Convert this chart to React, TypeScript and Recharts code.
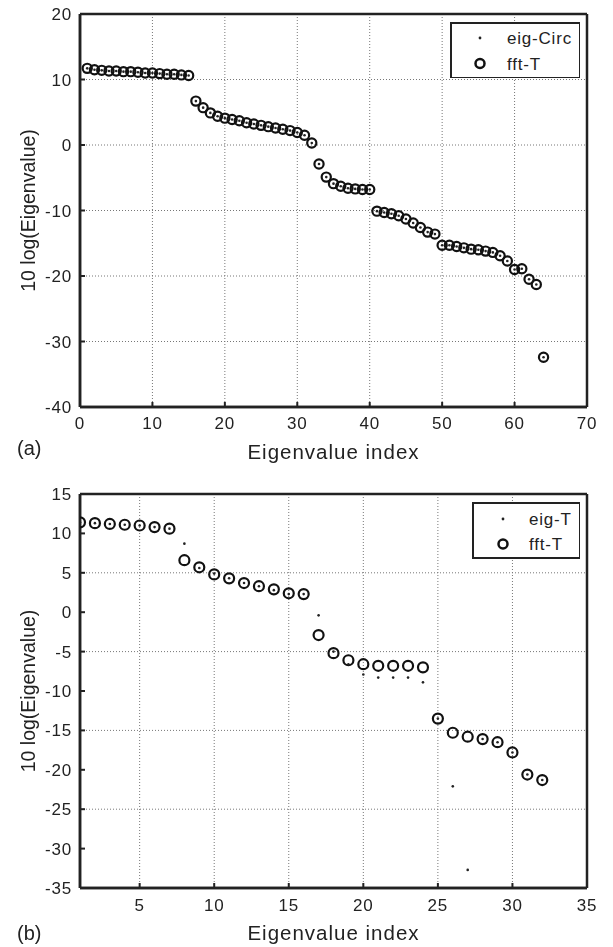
import React from 'react'
import { ScatterChart, Scatter, XAxis, YAxis, CartesianGrid, Legend } from 'recharts'

// (a) 64 eigenvalues of the circulant approximation vs FFT of T
const indexA = [
  1, 2, 3, 4, 5, 6, 7, 8, 9, 10, 11, 12, 13, 14, 15, 16,
  17, 18, 19, 20, 21, 22, 23, 24, 25, 26, 27, 28, 29, 30, 31, 32,
  33, 34, 35, 36, 37, 38, 39, 40, 41, 42, 43, 44, 45, 46, 47, 48,
  49, 50, 51, 52, 53, 54, 55, 56, 57, 58, 59, 60, 61, 62, 63, 64,
]
const fftTA = [
  11.7, 11.5, 11.4, 11.3, 11.3, 11.2, 11.2, 11.1, 11.0, 11.0, 10.9, 10.8, 10.8, 10.7, 10.6, 6.7,
  5.7, 4.9, 4.4, 4.1, 3.9, 3.7, 3.4, 3.2, 3.0, 2.8, 2.6, 2.4, 2.2, 1.9, 1.5, 0.3,
  -2.9, -4.9, -5.9, -6.3, -6.6, -6.7, -6.8, -6.8, -10.1, -10.3, -10.5, -10.8, -11.3, -11.9, -12.6, -13.3,
  -13.6, -15.3, -15.3, -15.5, -15.7, -15.9, -16.0, -16.2, -16.4, -16.9, -17.7, -19.0, -18.9, -20.5, -21.3, -32.4,
]
const eigCircA = [
  11.7, 11.5, 11.4, 11.3, 11.3, 11.2, 11.2, 11.1, 11.0, 11.0, 10.9, 10.8, 10.8, 10.7, 10.6, 6.7,
  5.7, 4.9, 4.4, 4.1, 3.9, 3.7, 3.4, 3.2, 3.0, 2.8, 2.6, 2.4, 2.2, 1.9, 1.5, 0.3,
  -2.9, -4.9, -5.9, -6.3, -6.6, -6.7, -6.8, -6.8, -10.1, -10.3, -10.5, -10.8, -11.3, -11.9, -12.6, -13.3,
  -13.6, -15.3, -15.3, -15.5, -15.7, -15.9, -16.0, -16.2, -16.4, -16.9, -17.7, -19.0, -18.9, -20.5, -21.3, -32.4,
]
const xTicksA = [0, 10, 20, 30, 40, 50, 60, 70]
const yTicksA = [-40, -30, -20, -10, 0, 10, 20]

// (b) 32 eigenvalues of T vs FFT of T
const indexB = [
  1, 2, 3, 4, 5, 6, 7, 8, 9, 10, 11, 12, 13, 14, 15, 16,
  17, 18, 19, 20, 21, 22, 23, 24, 25, 26, 27, 28, 29, 30, 31, 32,
]
const fftTB = [
  11.4, 11.3, 11.2, 11.1, 11.0, 10.8, 10.6, 6.6, 5.7, 4.8, 4.3, 3.7, 3.3, 2.9, 2.4, 2.3,
  -2.9, -5.2, -6.1, -6.6, -6.8, -6.8, -6.8, -7.0, -13.5, -15.3, -15.8, -16.1, -16.5, -17.8, -20.6, -21.3,
]
const eigTB = [
  11.4, 11.3, 11.2, 11.1, 11.0, 10.8, 10.6, 8.7, 5.6, 4.9, 4.3, 3.7, 3.3, 2.8, 2.3, 2.3,
  -0.4, -5.0, -6.6, -7.9, -8.3, -8.3, -8.3, -8.9, -13.5, -22.1, -32.7, -16.1, -16.5, -17.8, -20.6, -21.3,
]
const xTicksB = [1, 5, 10, 15, 20, 25, 30, 35]
const yTicksB = [-35, -30, -25, -20, -15, -10, -5, 0, 5, 10, 15]

const toPoints = (xs: number[], ys: number[]) => xs.map((x, i) => ({ x, y: ys[i] }))

// charts are laid out at half size and scaled up 2x with CSS (k = 1/2)
const k = 0.5
const FONT = '"Liberation Sans", Arial, Helvetica, sans-serif'
const INK = '#222'
const ax = { stroke: INK, strokeWidth: 2.5 * k }
const tl = { stroke: INK, strokeWidth: 2 * k }
const tickFont = { fontSize: 17 * k, fill: INK }
const xLabelStyle = { fontSize: 20.5 * k, fill: INK, letterSpacing: `${1 * k}px` }
const yLabelStyle = { fontSize: 19.5 * k, fill: INK, letterSpacing: '0px', textAnchor: 'middle' as const }

const dotShape = (p: any) => <circle cx={p.cx} cy={p.cy} r={1.3 * k} fill={INK} />
const ringA = (p: any) => <circle cx={p.cx} cy={p.cy} r={4.6 * k} fill="none" stroke="#111" strokeWidth={2.2 * k} />
const ringB = (p: any) => <circle cx={p.cx} cy={p.cy} r={5 * k} fill="none" stroke="#111" strokeWidth={2.2 * k} />

// plot frame: solid grid lines on the edges of the plot area
const frameRows = ({ offset }: any) => [offset.top, offset.top + offset.height]
const frameCols = ({ offset }: any) => [offset.left, offset.left + offset.width]

// drawn in full-size units, shrunk by the viewBox
function LegendBox({ w, h, markerX, textX, rows, names }: any) {
  return (
    <svg width={w * k} height={h * k} viewBox={`0 0 ${w} ${h}`} style={{ display: 'block' }}>
      <rect x={1} y={1} width={w - 2} height={h - 2} fill="#fff" stroke={INK} strokeWidth={2} />
      {rows.map((ry: number, i: number) => (
        <g key={i}>
          {i === 0 ? (
            <circle cx={markerX} cy={ry} r={1.4} fill={INK} />
          ) : (
            <circle cx={markerX} cy={ry} r={4.5} fill="none" stroke="#111" strokeWidth={2.5} />
          )}
          <text x={textX} y={ry} dy="0.36em" fontSize={17} fill={INK} style={{ letterSpacing: '0.8px' }}>
            {names[i]}
          </text>
        </g>
      ))}
    </svg>
  )
}

function PanelA() {
  return (
    <ScatterChart width={613 * k} height={470 * k} margin={{ top: 14 * k, right: 26 * k, bottom: 0, left: 0 }}>
      <CartesianGrid stroke="#777" strokeDasharray="0.5 1" strokeWidth={0.5} />
      <CartesianGrid stroke={INK} strokeWidth={1.25} horizontalCoordinatesGenerator={frameRows} verticalCoordinatesGenerator={frameCols} />
      <XAxis type="number" dataKey="x" domain={[0, 70]} ticks={xTicksA} allowDataOverflow
        height={63 * k} tickSize={-5 * k} tickMargin={15 * k} axisLine={ax} tickLine={tl} tick={tickFont}
        label={{ value: 'Eigenvalue index', position: 'insideBottom', offset: 11 * k, style: xLabelStyle }} />
      <XAxis xAxisId="top" orientation="top" type="number" domain={[0, 70]} ticks={xTicksA}
        height={0} tick={false} tickSize={-5 * k} axisLine={ax} tickLine={tl} />
      <YAxis type="number" dataKey="y" domain={[-40, 20]} ticks={yTicksA} allowDataOverflow
        width={80 * k} tickSize={-5 * k} tickMargin={13 * k} axisLine={ax} tickLine={tl} tick={tickFont}
        label={{ value: '10 log(Eigenvalue)', angle: -90, position: 'insideLeft', offset: 28 * k, style: yLabelStyle }} />
      <YAxis yAxisId="right" orientation="right" type="number" domain={[-40, 20]} ticks={yTicksA}
        width={0} tick={false} tickSize={-5 * k} axisLine={ax} tickLine={tl} />
      <Scatter name="fft-T" data={toPoints(indexA, fftTA)} shape={ringA} isAnimationActive={false} />
      <Scatter name="eig-Circ" data={toPoints(indexA, eigCircA)} shape={dotShape} isAnimationActive={false} />
      <Legend layout="vertical" align="center" verticalAlign="middle"
        wrapperStyle={{ left: 449 * k, top: 21 * k, width: 131 * k, height: 57 * k }}
        content={() => (
          <LegendBox w={131} h={57} markerX={30} textX={57} rows={[16, 41.5]} names={['eig-Circ', 'fft-T']} />
        )} />
    </ScatterChart>
  )
}

function PanelB() {
  return (
    <ScatterChart width={613 * k} height={477 * k} margin={{ top: 24 * k, right: 26 * k, bottom: 0, left: 0 }}>
      <CartesianGrid stroke="#777" strokeDasharray="0.5 1" strokeWidth={0.5} />
      <CartesianGrid stroke={INK} strokeWidth={1.25} horizontalCoordinatesGenerator={frameRows} verticalCoordinatesGenerator={frameCols} />
      <XAxis type="number" dataKey="x" domain={[1, 35]} ticks={xTicksB} allowDataOverflow
        height={59 * k} tickSize={-5 * k} tickMargin={16 * k} axisLine={ax} tickLine={tl} tick={tickFont}
        tickFormatter={(v: number) => (v === 1 ? '' : String(v))}
        label={{ value: 'Eigenvalue index', position: 'insideBottom', offset: 7 * k, style: xLabelStyle }} />
      <XAxis xAxisId="top" orientation="top" type="number" domain={[1, 35]} ticks={xTicksB}
        height={0} tick={false} tickSize={-5 * k} axisLine={ax} tickLine={tl} />
      <YAxis type="number" dataKey="y" domain={[-35, 15]} ticks={yTicksB} allowDataOverflow
        width={80 * k} tickSize={-5 * k} tickMargin={13 * k} axisLine={ax} tickLine={tl} tick={tickFont}
        label={{ value: '10 log(Eigenvalue)', angle: -90, position: 'insideLeft', offset: 28 * k, style: yLabelStyle }} />
      <YAxis yAxisId="right" orientation="right" type="number" domain={[-35, 15]} ticks={yTicksB}
        width={0} tick={false} tickSize={-5 * k} axisLine={ax} tickLine={tl} />
      <Scatter name="fft-T" data={toPoints(indexB, fftTB)} shape={ringB} isAnimationActive={false} />
      <Scatter name="eig-T" data={toPoints(indexB, eigTB)} shape={dotShape} isAnimationActive={false} />
      <Legend layout="vertical" align="center" verticalAlign="middle"
        wrapperStyle={{ left: 471 * k, top: 32 * k, width: 109 * k, height: 57 * k }}
        content={() => (
          <LegendBox w={109} h={57} markerX={31} textX={57} rows={[17, 42]} names={['eig-T', 'fft-T']} />
        )} />
    </ScatterChart>
  )
}

const scaled = { position: 'absolute' as const, left: 0, transform: `scale(${1 / k})`, transformOrigin: '0 0', letterSpacing: `${0.8 * k}px` }

export default function App() {
  return (
    <div style={{ position: 'absolute', left: 0, top: 0, width: 613, height: 947, background: '#fff', fontFamily: FONT }}>
      <div style={{ ...scaled, top: 0 }}>
        <PanelA />
      </div>
      <div style={{ ...scaled, top: 470 }}>
        <PanelB />
      </div>
      <div style={{ position: 'absolute', left: 17, top: 438, fontSize: 20, lineHeight: '20px', color: INK }}>(a)</div>
      <div style={{ position: 'absolute', left: 17, top: 923, fontSize: 20, lineHeight: '20px', color: INK }}>(b)</div>
    </div>
  )
}
